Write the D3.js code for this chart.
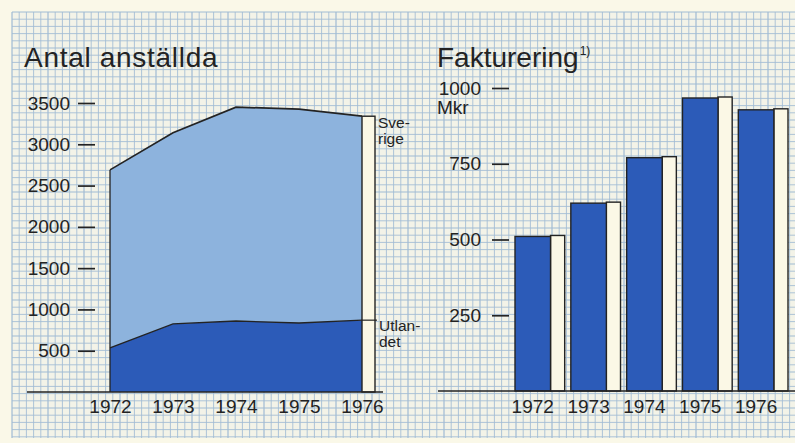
<!DOCTYPE html>
<html><head><meta charset="utf-8">
<script src="https://cdn.jsdelivr.net/npm/d3@7"></script>
<style>
html,body{margin:0;padding:0;background:#faf8e8;}
svg{display:block;font-family:"Liberation Sans",Arial,Helvetica,sans-serif;}
</style></head>
<body>
<svg id="c" width="795" height="443"></svg>
<script>
// ---- data ----
const years = [1972, 1973, 1974, 1975, 1976];
const utlandet = [535, 825, 860, 835, 870];      // employees abroad
const sverige = [2155, 2315, 2590, 2590, 2470];  // employees in Sweden
const fakturering = [510, 620, 770, 967, 928];   // Mkr
const leftTicks = [500, 1000, 1500, 2000, 2500, 3000, 3500];
const rightTicks = [250, 500, 750, 1000];
const leftTitle = "Antal anställda";
const rightTitle = "Fakturering";
const rightTitleNote = "1)";
const unitLabel = "Mkr";
const seriesLabels = {sverige: ["Sve-", "rige"], utlandet: ["Utlan-", "det"]};

const W = 795, H = 443;
const ink = "#232323", darkBlue = "#2c5bb8", lightBlue = "#8db3dd", cream = "#fbf8e6";
const svg = d3.select("#c");

// background & grid paper
svg.append("rect").attr("width", W).attr("height", H).attr("fill", "#faf8e8");
const gx0 = 12, gy0 = 12, gy1 = 438, gs = 7.2;
svg.append("rect").attr("x", gx0).attr("y", gy0).attr("width", W - gx0).attr("height", gy1 - gy0).attr("fill", "#f3f3e8");
const grid = svg.append("g").attr("stroke", "#98b6d2").attr("opacity", 0.9);
d3.range(gx0, W + 1, gs).forEach((x, i) => grid.append("line").attr("x1", x).attr("x2", x).attr("y1", gy0).attr("y2", gy1)
  .attr("stroke-width", i % 5 === 0 ? 1.2 : 0.85));
d3.range(gy0, gy1 + 0.5, gs).forEach((y, i) => grid.append("line").attr("x1", gx0).attr("x2", W).attr("y1", y).attr("y2", y)
  .attr("stroke-width", i % 5 === 0 ? 1.2 : 0.85));

// ---------- LEFT: Antal anställda ----------
const xL = d3.scaleLinear().domain([1972, 1976]).range([110, 362]);
const yL = d3.scaleLinear().domain([0, 3500]).range([392, 103]);

svg.append("text").attr("x", 24).attr("y", 67).attr("font-size", 28).attr("letter-spacing", 0.7).attr("fill", ink).text(leftTitle);

const rows = years.map((y, i) => ({year: y, utlandet: utlandet[i], sverige: sverige[i]}));
const stack = d3.stack().keys(["utlandet", "sverige"])(rows);
const area = d3.area().x(d => xL(d.data.year)).y0(d => yL(d[0])).y1(d => yL(d[1]));
svg.append("path").datum(stack[1]).attr("d", area).attr("fill", lightBlue);
svg.append("path").datum(stack[0]).attr("d", area).attr("fill", darkBlue);
const line = d3.line().x(d => xL(d.data.year)).y(d => yL(d[1]));
svg.append("path").datum(stack[1]).attr("d", line).attr("fill", "none").attr("stroke", ink).attr("stroke-width", 1.7);
svg.append("path").datum(stack[0]).attr("d", line).attr("fill", "none").attr("stroke", ink).attr("stroke-width", 1.4);
// left edge of area
svg.append("line").attr("x1", xL(1972)).attr("x2", xL(1972)).attr("y1", yL(stack[1][0][1])).attr("y2", yL(0))
  .attr("stroke", ink).attr("stroke-width", 1.3);

// white side column at the end
const last = stack[1][stack[1].length - 1];
const lastU = stack[0][stack[0].length - 1];
svg.append("rect").attr("x", xL(1976)).attr("y", yL(last[1])).attr("width", 13).attr("height", yL(0) - yL(last[1]))
  .attr("fill", cream).attr("stroke", ink).attr("stroke-width", 1.4);
svg.append("line").attr("x1", xL(1976)).attr("x2", xL(1976) + 15).attr("y1", yL(lastU[1])).attr("y2", yL(lastU[1]))
  .attr("stroke", ink).attr("stroke-width", 1.2);

// series labels
const lab = svg.append("g").attr("font-size", 15.5).attr("fill", ink);
seriesLabels.sverige.forEach((t, i) => lab.append("text").attr("x", 378).attr("y", yL(last[1]) + 12 + i * 16).text(t));
seriesLabels.utlandet.forEach((t, i) => lab.append("text").attr("x", 379).attr("y", yL(lastU[1]) + 11 + i * 16).text(t));

// y axis
const axL = svg.append("g").attr("transform", "translate(95,0)")
  .call(d3.axisLeft(yL).tickValues(leftTicks).tickSize(17).tickPadding(8).tickFormat(d3.format("d")));
axL.select(".domain").remove();
axL.selectAll("line").attr("stroke", ink).attr("stroke-width", 1.7);
axL.selectAll("text").attr("font-size", 19).attr("fill", ink).attr("font-family", "Liberation Sans, Arial, sans-serif");

// x axis
svg.append("line").attr("x1", 27).attr("x2", 383).attr("y1", yL(0)).attr("y2", yL(0)).attr("stroke", ink).attr("stroke-width", 1.6);
const axLB = svg.append("g").attr("transform", `translate(0,${yL(0)})`)
  .call(d3.axisBottom(xL).tickValues(years).tickSize(0).tickPadding(8).tickFormat(d3.format("d")));
axLB.select(".domain").remove();
axLB.selectAll("text").attr("font-size", 19).attr("fill", ink).attr("font-family", "Liberation Sans, Arial, sans-serif");

// ---------- RIGHT: Fakturering ----------
const yR = d3.scaleLinear().domain([0, 1000]).range([391, 88]);
const xR = d3.scaleBand().domain(years).range([515, 788]).paddingInner(0.11).paddingOuter(0);
const blueW = xR.bandwidth() * 0.715;

const tt = svg.append("text").attr("x", 437).attr("y", 67).attr("font-size", 28).attr("fill", ink).text(rightTitle);
tt.append("tspan").attr("font-size", 12).attr("dy", -12).attr("dx", 1).text(rightTitleNote);

svg.append("text").attr("x", 437).attr("y", 114).attr("font-size", 19).attr("fill", ink).text(unitLabel);

const bars = svg.append("g").selectAll("g").data(years.map((y, i) => ({year: y, v: fakturering[i]}))).join("g");
bars.append("rect").attr("x", d => xR(d.year) + blueW).attr("y", d => yR(d.v) - 1)
  .attr("width", xR.bandwidth() - blueW).attr("height", d => yR(0) - yR(d.v) + 1)
  .attr("fill", cream).attr("stroke", ink).attr("stroke-width", 1.4);
bars.append("rect").attr("x", d => xR(d.year)).attr("y", d => yR(d.v))
  .attr("width", blueW).attr("height", d => yR(0) - yR(d.v))
  .attr("fill", darkBlue).attr("stroke", ink).attr("stroke-width", 1.4);

const axR = svg.append("g").attr("transform", "translate(509,0)")
  .call(d3.axisLeft(yR).tickValues(rightTicks).tickSize(17).tickPadding(11).tickFormat(d3.format("d")));
axR.select(".domain").remove();
axR.selectAll("line").attr("stroke", ink).attr("stroke-width", 1.7);
axR.selectAll("text").attr("font-size", 19).attr("fill", ink).attr("font-family", "Liberation Sans, Arial, sans-serif");

svg.append("line").attr("x1", 438).attr("x2", W).attr("y1", yR(0)).attr("y2", yR(0)).attr("stroke", ink).attr("stroke-width", 1.6);
const axRB = svg.append("g").attr("transform", `translate(${blueW / 2},${yR(0)})`)
  .call(d3.axisBottom(xR).tickSize(0).tickPadding(9).tickFormat(d3.format("d")));
axRB.select(".domain").remove();
axRB.selectAll(".tick").attr("transform", d => `translate(${xR(d)},0)`);
axRB.selectAll("text").attr("font-size", 19).attr("fill", ink).attr("font-family", "Liberation Sans, Arial, sans-serif");
</script>
</body></html>
